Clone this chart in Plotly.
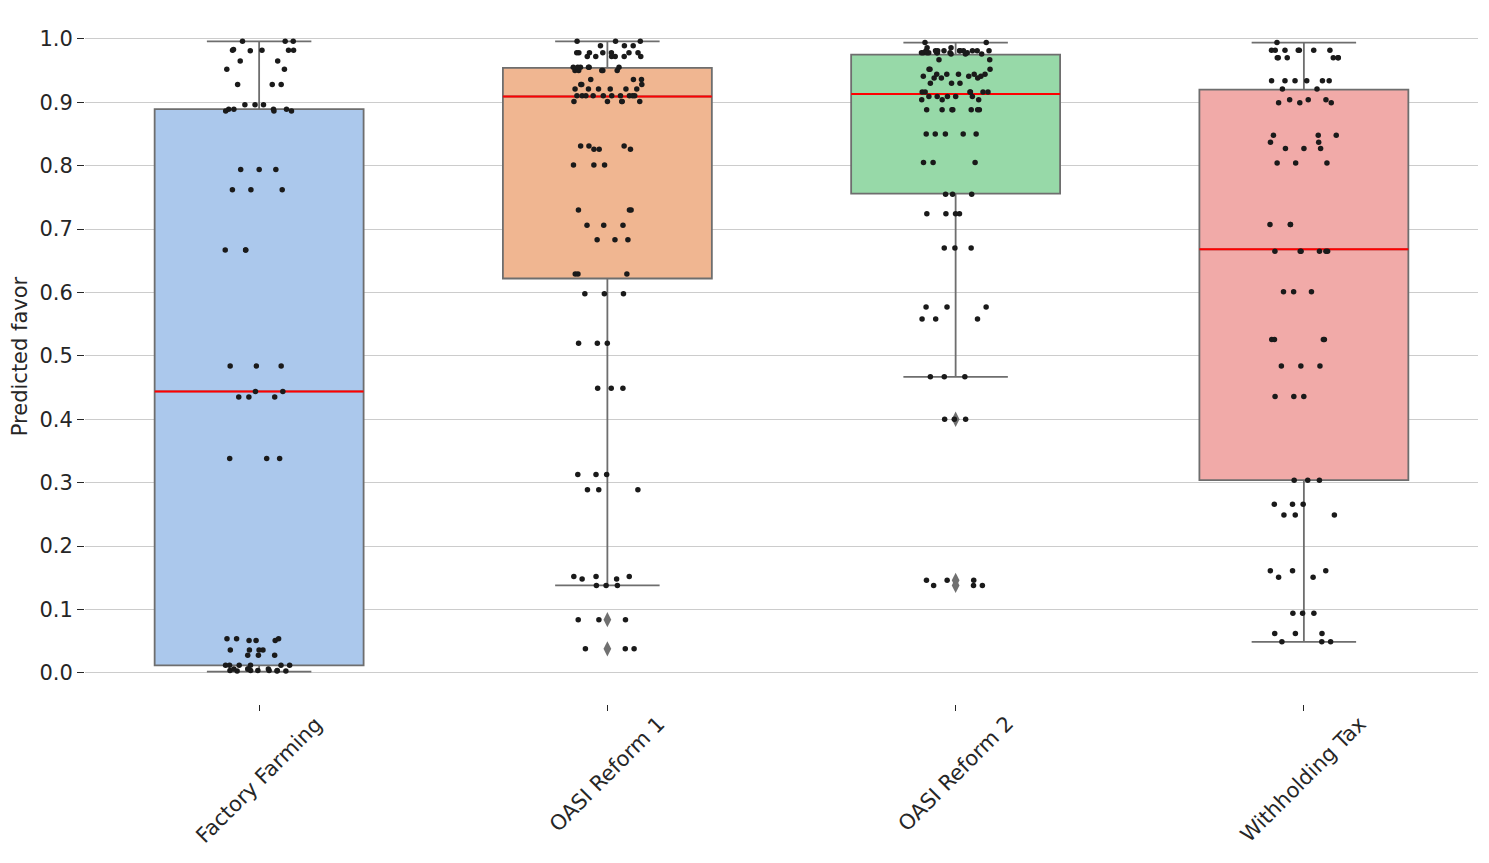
import plotly.graph_objects as go

categories = ["Factory Farming", "OASI Reform 1", "OASI Reform 2", "Withholding Tax"]

# Predicted-favor values per category
factory_farming = [
    0.996, 0.996, 0.996, 0.982, 0.982, 0.982, 0.982, 0.981, 0.983,
    0.965, 0.965, 0.952, 0.952, 0.928, 0.928, 0.928, 0.896, 0.896, 0.896,
    0.889, 0.889, 0.889, 0.889, 0.886, 0.886, 0.886, 0.794, 0.794, 0.794,
    0.762, 0.762, 0.762, 0.667, 0.667, 0.667, 0.484, 0.484, 0.484,
    0.444, 0.444, 0.435, 0.435, 0.435, 0.338, 0.338, 0.338,
    0.054, 0.054, 0.054, 0.051, 0.051, 0.051, 0.036, 0.036, 0.036, 0.036,
    0.028, 0.028, 0.028, 0.012, 0.012, 0.012, 0.012, 0.012, 0.012,
    0.006, 0.006, 0.006, 0.006, 0.004, 0.004, 0.004, 0.004, 0.004,
    0.003, 0.003, 0.003,
]
oasi_reform_1 = [
    0.996, 0.996, 0.996, 0.989, 0.989, 0.989,
    0.978, 0.978, 0.978, 0.978, 0.978, 0.978, 0.978,
    0.972, 0.972, 0.972, 0.972, 0.972, 0.972,
    0.955, 0.955, 0.955, 0.955, 0.955, 0.955, 0.950, 0.950, 0.950, 0.950, 0.950,
    0.936, 0.936, 0.936, 0.928, 0.928, 0.928,
    0.921, 0.921, 0.921, 0.921, 0.921, 0.921,
    0.910, 0.910, 0.910, 0.910, 0.910, 0.910, 0.910, 0.910, 0.910, 0.910,
    0.901, 0.901, 0.901, 0.901, 0.901,
    0.831, 0.831, 0.831, 0.826, 0.826, 0.826, 0.801, 0.801, 0.801,
    0.730, 0.730, 0.730, 0.706, 0.706, 0.706, 0.683, 0.683, 0.683,
    0.629, 0.629, 0.629, 0.598, 0.598, 0.598, 0.520, 0.520, 0.520,
    0.449, 0.449, 0.449, 0.313, 0.313, 0.313, 0.289, 0.289, 0.289,
    0.152, 0.152, 0.152, 0.148, 0.148, 0.138, 0.138, 0.138,
    0.084, 0.084, 0.084, 0.038, 0.038, 0.038,
]
oasi_reform_2 = [
    0.994, 0.994, 0.986, 0.986,
    0.981, 0.981, 0.981, 0.981, 0.981, 0.981, 0.981, 0.981, 0.981, 0.981,
    0.978, 0.978, 0.978, 0.978, 0.978, 0.978, 0.978, 0.978,
    0.976, 0.976, 0.976, 0.967, 0.967, 0.952, 0.952, 0.952,
    0.944, 0.944, 0.944, 0.944, 0.944, 0.941, 0.941, 0.941,
    0.938, 0.938, 0.938, 0.930, 0.930, 0.930,
    0.916, 0.916, 0.916, 0.916, 0.916, 0.916, 0.909, 0.909, 0.909, 0.909, 0.909,
    0.904, 0.904, 0.904, 0.888, 0.888, 0.888, 0.888, 0.888, 0.888, 0.888,
    0.850, 0.850, 0.850, 0.850, 0.850, 0.805, 0.805, 0.805,
    0.755, 0.755, 0.755, 0.724, 0.724, 0.724, 0.724, 0.670, 0.670, 0.670,
    0.577, 0.577, 0.577, 0.558, 0.558, 0.558, 0.467, 0.467, 0.467,
    0.400, 0.400, 0.400, 0.146, 0.146, 0.146, 0.138, 0.138, 0.138,
]
withholding_tax = [
    0.994, 0.982, 0.982, 0.982, 0.982, 0.982, 0.982, 0.982,
    0.970, 0.970, 0.970, 0.970, 0.970, 0.970,
    0.934, 0.934, 0.934, 0.934, 0.934, 0.934, 0.921, 0.921,
    0.904, 0.904, 0.904, 0.899, 0.899, 0.899, 0.848, 0.848, 0.848,
    0.837, 0.837, 0.827, 0.827, 0.827, 0.804, 0.804, 0.804,
    0.707, 0.707, 0.707, 0.665, 0.665, 0.665, 0.665, 0.665, 0.665,
    0.601, 0.601, 0.601, 0.526, 0.526, 0.526, 0.526,
    0.484, 0.484, 0.484, 0.436, 0.436, 0.436,
    0.304, 0.304, 0.304, 0.266, 0.266, 0.266, 0.249, 0.249, 0.249,
    0.161, 0.161, 0.161, 0.151, 0.151, 0.094, 0.094, 0.094,
    0.062, 0.062, 0.062, 0.049, 0.049, 0.049,
]
values = [factory_farming, oasi_reform_1, oasi_reform_2, withholding_tax]

# Box statistics
q1 = [0.012, 0.622, 0.756, 0.304]
medians = [0.444, 0.909, 0.913, 0.668]
q3 = [0.889, 0.954, 0.975, 0.920]
lower_whisker = [0.002, 0.138, 0.467, 0.049]
upper_whisker = [0.996, 0.996, 0.994, 0.994]
outliers = [[], [0.084, 0.038], [0.400, 0.146, 0.138], []]

box_colors = ["#abc8ec", "#f0b691", "#97d9a8", "#f1aaa8"]
edge_color = "#6e6e6e"
text_color = "#262626"
font_family = "DejaVu Sans"
FS = 21
BW = 0.6
positions = list(range(len(categories)))

fig = go.Figure()

# Boxes
for i, pos in enumerate(positions):
    fig.add_trace(go.Box(
        x=[pos], q1=[q1[i]], median=[medians[i]], q3=[q3[i]],
        lowerfence=[lower_whisker[i]], upperfence=[upper_whisker[i]],
        fillcolor=box_colors[i], line=dict(color=edge_color, width=1.8),
        width=BW, whiskerwidth=0.5, boxpoints=False, showlegend=False,
        hoverinfo="skip", name=categories[i],
    ))

# Red median lines (degenerate boxes)
for i, pos in enumerate(positions):
    m = medians[i]
    fig.add_trace(go.Box(
        x=[pos], q1=[m], median=[m], q3=[m], lowerfence=[m], upperfence=[m],
        fillcolor="rgba(0,0,0,0)", line=dict(color="red", width=2),
        width=BW, whiskerwidth=0, boxpoints=False, showlegend=False,
        hoverinfo="skip",
    ))

# Outlier diamonds
for i, pos in enumerate(positions):
    if not outliers[i]:
        continue
    fig.add_trace(go.Box(
        x=[pos] * len(outliers[i]), y=outliers[i],
        boxpoints="all", jitter=0, pointpos=0, width=BW,
        fillcolor="rgba(0,0,0,0)", line=dict(color="rgba(0,0,0,0)", width=0),
        marker=dict(symbol="diamond-tall", size=11, color="#707070"),
        showlegend=False, hoverinfo="y",
    ))

# Jittered sample points: every distinct value gets its own (sub-pixel offset)
# point group, so plotly's jitter spreads each group uniformly like a strip plot.
EPS = 1e-5
for i, pos in enumerate(positions):
    distinct = sorted(set(values[i]))
    xs = [pos + EPS * distinct.index(v) for v in values[i]]
    fig.add_trace(go.Box(
        x=xs, y=values[i],
        boxpoints="all", jitter=0.33, pointpos=0, width=BW,
        fillcolor="rgba(0,0,0,0)", line=dict(color="rgba(0,0,0,0)", width=0),
        marker=dict(size=5.5, color="#1a1a1a"),
        showlegend=False, hoverinfo="y",
    ))

# Category labels (centered, rotated 45 degrees)
for i, pos in enumerate(positions):
    fig.add_annotation(
        x=pos, xref="x", y=0, yref="paper", yanchor="top", xanchor="center",
        text=categories[i], textangle=-45, showarrow=False, yshift=-5,
        font=dict(family=font_family, size=FS, color=text_color),
    )

fig.update_layout(
    width=1489, height=863,
    margin=dict(l=77, r=19, t=1, b=167, autoexpand=False),
    paper_bgcolor="white", plot_bgcolor="white",
    boxmode="overlay", showlegend=False,
    font=dict(family=font_family, size=FS, color=text_color),
)
fig.update_xaxes(
    type="linear", range=[-0.5, 3.5], tickmode="array", tickvals=positions,
    showgrid=False, zeroline=False, showline=False,
    ticks="outside", ticklen=6, tickwidth=1.3, tickcolor=text_color,
    showticklabels=False, automargin=False,
)
fig.update_yaxes(
    range=[-0.049, 1.047], tickmode="array",
    tickvals=[0.0, 0.1, 0.2, 0.3, 0.4, 0.5, 0.6, 0.7, 0.8, 0.9, 1.0],
    ticktext=["0.0", "0.1", "0.2", "0.3", "0.4", "0.5", "0.6", "0.7", "0.8", "0.9", "1.0"],
    showgrid=True, gridcolor="#cccccc", gridwidth=1.1, zeroline=False, showline=False,
    ticks="outside", ticklen=7, tickwidth=1.3, tickcolor=text_color,
    tickfont=dict(family=font_family, size=FS, color=text_color),
    title=dict(text="Predicted favor", font=dict(family=font_family, size=FS, color=text_color), standoff=8),
    automargin=False,
)

fig.write_html("out.html")
